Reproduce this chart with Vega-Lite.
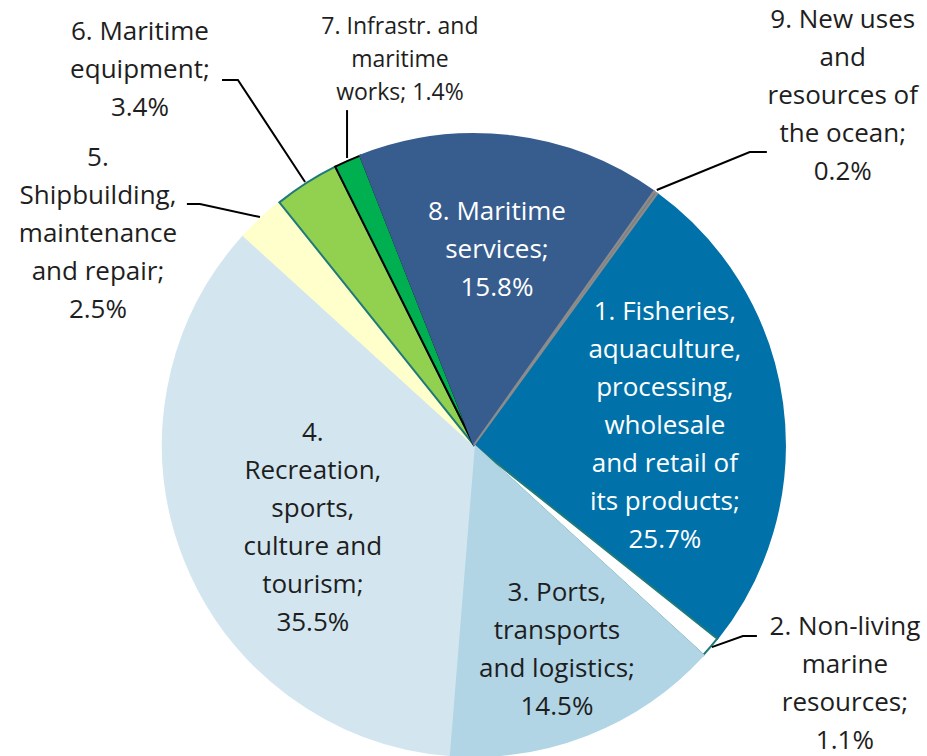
{
  "$schema": "https://vega.github.io/schema/vega-lite/v6.json",
  "width": 927,
  "height": 756,
  "autosize": {"type": "none"},
  "padding": 0,
  "background": "white",
  "view": {"stroke": null},
  "config": {"font": "Open Sans"},
  "datasets": {
    "slices": [
      {"id": 1, "sector": "Fisheries, aquaculture, processing, wholesale and retail", "share": 25.7},
      {"id": 2, "sector": "Non-living marine resources", "share": 1.1},
      {"id": 3, "sector": "Ports, transports and logistics", "share": 14.5},
      {"id": 4, "sector": "Recreation, sports, culture and tourism", "share": 35.5},
      {"id": 5, "sector": "Shipbuilding, maintenance and repair", "share": 2.5},
      {"id": 6, "sector": "Maritime equipment", "share": 3.4},
      {"id": 7, "sector": "Infrastr. and maritime works", "share": 1.4},
      {"id": 8, "sector": "Maritime services", "share": 15.8},
      {"id": 9, "sector": "New uses and resources of the ocean", "share": 0.2}
    ],
    "labels": [
      {"id": 1, "text": "1. Fisheries,\naquaculture,\nprocessing,\nwholesale\nand retail of\nits products;\n25.7%", "lx": 61.4, "ly": 42.8},
      {"id": 2, "text": "2. Non-living\nmarine\nresources;\n1.1%", "lx": 119.3, "ly": -58.5},
      {"id": 3, "text": "3. Ports,\ntransports\nand logistics;\n14.5%", "lx": 26.7, "ly": -47.6},
      {"id": 4, "text": "4.\nRecreation,\nsports,\nculture and\ntourism;\n35.5%", "lx": -51.8, "ly": 3.9},
      {"id": 5, "text": "5.\nShipbuilding,\nmaintenance\nand repair;\n2.5%", "lx": -120.9, "ly": 92.3},
      {"id": 6, "text": "6. Maritime\nequipment;\n3.4%", "lx": -107.4, "ly": 132.8},
      {"id": 7, "text": "7. Infrastr. and\nmaritime\nworks; 1.4%", "lx": -23.8, "ly": 134.4},
      {"id": 8, "text": "8. Maritime\nservices;\n15.8%", "lx": 7.4, "ly": 74.9},
      {"id": 9, "text": "9. New uses\nand\nresources of\nthe ocean;\n0.2%", "lx": 118.6, "ly": 136.7}
    ],
    "leaders": [
      {"id": 9, "step": 1, "lx": 58.8, "ly": 82.0},
      {"id": 9, "step": 2, "lx": 88.7, "ly": 94.2},
      {"id": 9, "step": 3, "lx": 94.2, "ly": 94.2},
      {"id": 2, "step": 1, "lx": 76.5, "ly": -65.0},
      {"id": 2, "step": 2, "lx": 86.5, "ly": -61.4},
      {"id": 2, "step": 3, "lx": 91.0, "ly": -61.4},
      {"id": 6, "step": 1, "lx": -54.3, "ly": 84.6},
      {"id": 6, "step": 2, "lx": -75.9, "ly": 117.4},
      {"id": 6, "step": 3, "lx": -81.0, "ly": 117.4},
      {"id": 7, "step": 1, "lx": -40.8, "ly": 92.3},
      {"id": 7, "step": 2, "lx": -40.8, "ly": 107.7},
      {"id": 5, "step": 1, "lx": -68.8, "ly": 73.3},
      {"id": 5, "step": 2, "lx": -88.1, "ly": 77.5},
      {"id": 5, "step": 3, "lx": -92.3, "ly": 77.5}
    ]
  },
  "layer": [
    {
      "data": {"name": "slices"},
      "mark": {"type": "arc", "outerRadius": 311, "strokeWidth": 2},
      "encoding": {
        "x": {"datum": 0, "type": "quantitative", "scale": {"domain": [-152.4, 145.7], "nice": false, "zero": false}, "axis": null},
        "y": {"datum": 0, "type": "quantitative", "scale": {"domain": [-100, 143.1], "nice": false, "zero": false}, "axis": null},
        "theta": {"field": "share", "type": "quantitative", "stack": true, "scale": {"domain": [0, 100.1], "nice": false, "range": [0.630, 6.913]}},
        "order": {"field": "id", "type": "quantitative"},
        "color": {
          "field": "id", "type": "nominal", "legend": null,
          "scale": {"domain": [1, 2, 3, 4, 5, 6, 7, 8, 9], "range": ["#0071A9", "#FFFFFF", "#B1D5E5", "#D3E6F0", "#FFFFCC", "#92D050", "#00B050", "#375D8F", "#7F7F7F"]}
        },
        "stroke": {
          "field": "id", "type": "nominal", "legend": null,
          "scale": {"domain": [1, 2, 3, 4, 5, 6, 7, 8, 9], "range": ["#0071A9", "#1F7A7A", "#B1D5E5", "#D3E6F0", "#FFFFCC", "#1F7A7A", "#000000", "#375D8F", "#8C8C8C"]}
        }
      }
    },
    {
      "data": {"name": "leaders"},
      "mark": {"type": "line", "color": "black", "strokeWidth": 2},
      "encoding": {
        "x": {"field": "lx", "type": "quantitative", "scale": {"domain": [-152.4, 145.7], "nice": false, "zero": false}, "axis": null},
        "y": {"field": "ly", "type": "quantitative", "scale": {"domain": [-100, 143.1], "nice": false, "zero": false}, "axis": null},
        "detail": {"field": "id", "type": "nominal"},
        "order": {"field": "step", "type": "quantitative"}
      }
    },
    {
      "data": {"name": "labels"},
      "transform": [{"filter": "datum.id != 7"}],
      "mark": {"type": "text", "lineBreak": "\n", "lineHeight": 38, "fontSize": 26, "align": "center", "baseline": "middle"},
      "encoding": {
        "x": {"field": "lx", "type": "quantitative", "scale": {"domain": [-152.4, 145.7], "nice": false, "zero": false}, "axis": null},
        "y": {"field": "ly", "type": "quantitative", "scale": {"domain": [-100, 143.1], "nice": false, "zero": false}, "axis": null},
        "text": {"field": "text", "type": "nominal"},
        "color": {"condition": {"test": "datum.id == 1 || datum.id == 8", "value": "#FFFFFF"}, "value": "#1E1E1E"}
      }
    },
    {
      "data": {"name": "labels"},
      "transform": [{"filter": "datum.id == 7"}],
      "mark": {"type": "text", "lineBreak": "\n", "lineHeight": 33, "fontSize": 23, "align": "center", "baseline": "middle", "color": "#1E1E1E"},
      "encoding": {
        "x": {"field": "lx", "type": "quantitative", "scale": {"domain": [-152.4, 145.7], "nice": false, "zero": false}, "axis": null},
        "y": {"field": "ly", "type": "quantitative", "scale": {"domain": [-100, 143.1], "nice": false, "zero": false}, "axis": null},
        "text": {"field": "text", "type": "nominal"}
      }
    }
  ]
}
